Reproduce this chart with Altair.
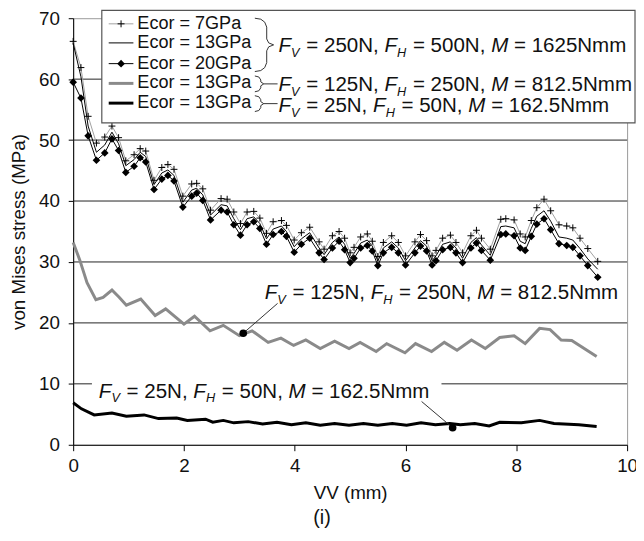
import altair as alt
import pandas as pd

# ---------------- data ----------------
X = [0.00, 0.14, 0.27, 0.42, 0.57, 0.70, 0.82, 0.95, 1.10, 1.21,
     1.31, 1.46, 1.60, 1.71, 1.82, 1.98, 2.14, 2.23, 2.34, 2.48,
     2.67, 2.78, 2.90, 3.02, 3.14, 3.26, 3.37, 3.49, 3.61, 3.76,
     3.85, 3.99, 4.12, 4.27, 4.44, 4.53, 4.68, 4.80, 4.90, 5.00,
     5.07, 5.19, 5.31, 5.40, 5.50, 5.60, 5.75, 5.87, 6.00, 6.17,
     6.27, 6.38, 6.48, 6.55, 6.67, 6.81, 6.91, 7.03, 7.18, 7.28,
     7.37, 7.53, 7.72, 7.81, 7.96, 8.07, 8.16, 8.27, 8.37, 8.50,
     8.62, 8.77, 8.91, 9.02, 9.15, 9.29, 9.47]
S20 = [59.5, 56.9, 50.7, 46.7, 47.9, 50.2, 48.3, 44.7, 45.7, 47.1,
       46.4, 41.9, 43.6, 44.2, 43.3, 39.0, 40.8, 41.3, 40.1, 36.9,
       38.5, 38.2, 36.1, 34.4, 36.1, 36.6, 35.5, 32.9, 34.5, 35.0,
       34.2, 31.6, 32.9, 33.9, 31.5, 30.4, 32.3, 33.4, 32.0, 29.9,
       30.6, 32.3, 32.7, 31.8, 29.4, 31.5, 32.4, 31.5, 29.5, 31.5,
       32.6, 31.8, 29.5, 30.2, 32.0, 32.4, 31.5, 29.9, 32.3, 33.1,
       31.9, 30.3, 34.5, 34.6, 34.3, 32.3, 31.9, 34.2, 36.2, 37.1,
       35.3, 33.0, 32.7, 32.4, 31.0, 29.4, 27.5]
S13 = [65.9, 60.4, 52.3, 48.0, 49.2, 51.3, 49.4, 45.8, 46.8, 48.0,
       47.3, 42.7, 44.6, 45.1, 44.2, 39.8, 41.8, 42.1, 41.0, 37.7,
       39.4, 39.2, 37.1, 35.3, 37.1, 37.4, 36.3, 33.8, 35.4, 35.9,
       35.0, 32.5, 33.8, 34.8, 32.3, 31.2, 33.2, 34.1, 32.9, 30.6,
       31.4, 33.1, 33.6, 32.6, 30.1, 32.3, 33.3, 32.3, 30.2, 32.3,
       33.5, 32.6, 30.2, 31.0, 32.9, 33.3, 32.3, 30.6, 33.2, 34.0,
       32.8, 31.1, 35.8, 35.9, 35.6, 33.4, 33.0, 35.5, 37.5, 38.4,
       36.7, 34.1, 33.9, 33.6, 32.2, 30.5, 28.8]
S7 = [66.2, 61.9, 53.9, 49.5, 50.5, 52.3, 50.4, 46.6, 47.6, 48.6,
      48.2, 43.4, 45.5, 46.0, 45.2, 40.8, 42.8, 42.9, 42.0, 38.5,
      40.4, 40.3, 38.2, 36.3, 38.2, 38.3, 37.2, 34.7, 36.6, 36.8,
      36.0, 33.6, 34.8, 35.7, 33.3, 32.1, 34.3, 35.0, 33.9, 31.5,
      32.4, 34.1, 34.6, 33.4, 30.9, 33.2, 34.3, 33.2, 31.0, 33.3,
      34.5, 33.5, 31.0, 31.9, 33.9, 34.4, 33.2, 31.5, 34.3, 35.2,
      33.9, 32.1, 37.0, 37.1, 36.9, 34.6, 34.1, 36.8, 38.9, 40.3,
      38.4, 36.1, 35.9, 35.6, 33.9, 32.2, 30.1]

XG = [0.00, 0.12, 0.25, 0.41, 0.54, 0.70, 0.83, 0.96, 1.22, 1.48,
      1.67, 2.00, 2.19, 2.47, 2.71, 3.00, 3.23, 3.52, 3.75, 3.98,
      4.20, 4.46, 4.72, 4.98, 5.18, 5.47, 5.66, 5.99, 6.18, 6.47,
      6.70, 6.93, 7.19, 7.44, 7.70, 7.96, 8.16, 8.42, 8.61, 8.81,
      9.00, 9.45]
G125 = [33.2, 30.3, 26.6, 23.8, 24.2, 25.4, 24.2, 22.9, 23.9, 21.2,
        22.3, 19.8, 21.1, 18.7, 19.6, 17.9, 18.7, 16.8, 17.5, 16.3,
        17.2, 15.8, 17.0, 15.8, 16.8, 15.3, 16.6, 15.1, 16.6, 15.3,
        16.8, 15.5, 17.2, 15.8, 17.6, 17.9, 16.6, 19.1, 18.9, 17.2,
        17.1, 14.5]

XB = [0.00, 0.15, 0.38, 0.70, 0.96, 1.28, 1.54, 1.87, 2.06, 2.39,
      2.52, 2.71, 2.90, 3.16, 3.42, 3.68, 3.94, 4.20, 4.46, 4.72,
      4.98, 5.24, 5.50, 5.76, 6.02, 6.28, 6.54, 6.80, 6.99, 7.25,
      7.51, 7.70, 8.09, 8.42, 8.68, 9.13, 9.45]
B25 = [6.9, 5.9, 4.9, 5.2, 4.7, 4.9, 4.3, 4.4, 4.0, 4.2,
       3.7, 4.0, 3.6, 3.8, 3.4, 3.7, 3.3, 3.6, 3.2, 3.5,
       3.2, 3.5, 3.2, 3.5, 3.2, 3.6, 3.3, 3.5, 3.3, 3.5,
       3.1, 3.7, 3.6, 4.0, 3.5, 3.3, 3.0]

GRID = [10, 20, 30, 40, 50, 60]
XTICKS = [0, 2, 4, 6, 8, 10]
YTICKS = [0, 10, 20, 30, 40, 50, 60, 70]
LEGEND_LABELS = ["Ecor = 7GPa", "Ecor = 13GPa", "Ecor = 20GPa", "Ecor = 13GPa", "Ecor = 13GPa"]
CASES = [("250N", "500N", "1625Nmm"), ("125N", "250N", "812.5Nmm"), ("25N", "50N", "162.5Nmm")]
# annotation markers (data coords): dot x, dot y, leader-start x, leader-start y
ANN1 = (3.07, 18.3, 3.69, 23.2)
ANN2 = (6.85, 2.8, 6.29, 7.1)

# ---------------- layout ----------------
W, H = 561, 432
PX0, PY0 = 74, 15          # page position of the plot origin (used for layout helpers)
FONT = "Liberation Sans"
TXT = "#111111"
FS_LEG = 18.3
FS_F = 20.8


def LX(v):
    return v - PX0


def LY(v):
    return v - PY0


xs = alt.Scale(domain=[0, 10], nice=False, zero=False)
ys = alt.Scale(domain=[0, 70], nice=False)

xaxis = alt.Axis(values=XTICKS, title="VV (mm)", grid=False, tickSize=6, labelPadding=6,
                 titlePadding=8, domainColor="black", tickColor="black", labelColor=TXT,
                 titleColor=TXT, labelFontSize=19, titleFontSize=19, titleFontWeight="normal",
                 labelFont=FONT, titleFont=FONT, labelFlush=False, labelOverlap=False)
yaxis = alt.Axis(values=YTICKS, title="von Mises stress (MPa)", grid=False, tickSize=5,
                 labelPadding=9, titlePadding=10, domainColor="black", tickColor="black",
                 labelColor=TXT, titleColor=TXT, labelFontSize=19, titleFontSize=19,
                 titleFontWeight="normal", labelFont=FONT, titleFont=FONT)

PLUS = "M-1,0H1M0,-1V1"

df_top = pd.DataFrame({"x": X, "s7": S7, "s13": S13, "s20": S20})
df_g = pd.DataFrame({"x": XG, "v": G125})
df_b = pd.DataFrame({"x": XB, "v": B25})


def xq(f="x"):
    return alt.X(f + ":Q", scale=xs, axis=xaxis)


def yq(f):
    return alt.Y(f + ":Q", scale=ys, axis=yaxis)


def pxx(f="px"):
    return alt.X(f + ":Q", scale=None, axis=None)


def pxy(f="py"):
    return alt.Y(f + ":Q", scale=None, axis=None)


grid = alt.Chart(pd.DataFrame({"x": [0, 10] * len(GRID),
                               "v": [g for g in GRID for _ in (0, 1)],
                               "id": [g for g in GRID for _ in (0, 1)]})).mark_line(
    color="#222222", strokeWidth=1).encode(x=xq(), y=yq("v"), detail="id:N")

one = pd.DataFrame({"a": [0]})
ann2_box = alt.Chart(one).mark_rect(fill="white").encode(
    x=alt.value(LX(93)), x2=alt.value(LX(447)), y=alt.value(LY(377)), y2=alt.value(LY(403)))

line_g = alt.Chart(df_g).mark_line(color="#8a8a8a", strokeWidth=3).encode(x=xq(), y=yq("v"))
line_b = alt.Chart(df_b).mark_line(color="#000000", strokeWidth=3).encode(x=xq(), y=yq("v"))
line7 = alt.Chart(df_top).mark_line(color="#a0a0a0", strokeWidth=1).encode(x=xq(), y=yq("s7"))
line13 = alt.Chart(df_top).mark_line(color="#000000", strokeWidth=1).encode(x=xq(), y=yq("s13"))
line20 = alt.Chart(df_top).mark_line(color="#000000", strokeWidth=1).encode(x=xq(), y=yq("s20"))
pts7 = alt.Chart(df_top).mark_point(shape=PLUS, size=49, stroke="black", strokeWidth=1,
                                    filled=False, opacity=1).encode(x=xq(), y=yq("s7"))
pts20 = alt.Chart(df_top).mark_point(shape="diamond", size=60, color="black", filled=True,
                                     opacity=1).encode(x=xq(), y=yq("s20"))

df_lead = pd.DataFrame({
    "id": ["a", "a", "b", "b"],
    "x": [ANN1[2], ANN1[0], ANN2[2], ANN2[0]],
    "y": [ANN1[3], ANN1[1], ANN2[3], ANN2[1]],
})
leaders = alt.Chart(df_lead).mark_line(color="#333333", strokeWidth=1).encode(
    x=xq(), y=yq("y"), detail="id:N")
df_dots = pd.DataFrame({"x": [ANN1[0], ANN2[0]], "y": [ANN1[1], ANN2[1]]})
dots = alt.Chart(df_dots).mark_point(shape="circle", size=60, color="black", filled=True,
                                     opacity=1).encode(x=xq(), y=yq("y"))

# ---- text segments with italic F_V, F_H, M ----
AW = {' ': 278, '=': 584, ',': 278, '.': 278, 'N': 722, 'm': 833, 'F': 611, 'M': 833,
      'V': 667, 'H': 722}
for d in "0123456789":
    AW[d] = 556


def tw(s, fs):
    return sum(AW.get(c, 556) for c in s) * fs / 1000.0


def formula(case, x0, yc, fs):
    """x0, yc: page coords of text start / vertical centre."""
    fv, fh, m = case
    segs = [("F", True, False), ("V", True, True), (" = %s, " % fv, False, False),
            ("F", True, False), ("H", True, True), (" = %s, " % fh, False, False),
            ("M", True, False), (" = %s" % m, False, False)]
    rows = []
    x = LX(x0)
    yb = LY(yc) + 0.36 * fs
    for t, it, sub in segs:
        size = fs * 0.62 if sub else fs
        lead = len(t) - len(t.lstrip(" "))
        rows.append(dict(t=t.strip(" "), px=x + tw(" " * lead, size),
                         py=yb + (0.22 * fs if sub else 0), fs=size, it=it))
        x += tw(t, size) + (1.0 if sub else 0.0)
    return rows


seg_rows = []
seg_rows += formula(CASES[0], 282, 42.0, FS_F)
seg_rows += formula(CASES[1], 282, 81.5, FS_F)
seg_rows += formula(CASES[2], 282, 102.5, FS_F)
ann_rows = []
ann_rows += formula(CASES[1], 268, 292.0, FS_F)
ann_rows += formula(CASES[2], 100, 391.7, FS_F)
df_seg = pd.DataFrame(seg_rows)
df_ann = pd.DataFrame(ann_rows)


def seg_layer(df, italic):
    d = df[df["it"] == italic]
    return alt.Chart(d).mark_text(align="left", baseline="alphabetic", font=FONT,
                                  fontStyle="italic" if italic else "normal",
                                  color=TXT).encode(
        x=pxx(), y=pxy(), text="t:N", size=alt.Size("fs:Q", scale=None, legend=None))


# ---- legend ----
ROWS = [LY(v) for v in (20.7, 40, 61, 81, 101)]
leg_box = alt.Chart(one).mark_rect(fill="white", stroke="#555555", strokeWidth=1.2).encode(
    x=alt.value(LX(103)), x2=alt.value(LX(643)), y=alt.value(LY(7)), y2=alt.value(LY(121)))
styles = [("#a0a0a0", 1), ("#000000", 1), ("#000000", 1), ("#8a8a8a", 3), ("#000000", 3)]
lg = []
for i, (c, w) in enumerate(styles):
    lg.append(dict(id=i, px=LX(110), py=ROWS[i], c=c, w=w))
    lg.append(dict(id=i, px=LX(135), py=ROWS[i], c=c, w=w))
df_lg = pd.DataFrame(lg)
leg_lines = alt.Chart(df_lg).mark_line().encode(
    x=pxx(), y=pxy(), detail="id:N", color=alt.Color("c:N", scale=None, legend=None),
    strokeWidth=alt.StrokeWidth("w:Q", scale=None, legend=None))
leg_plus = alt.Chart(pd.DataFrame({"px": [LX(122.5)], "py": [ROWS[0]]})).mark_point(
    shape=PLUS, size=49, stroke="black", strokeWidth=1, filled=False, opacity=1).encode(
    x=pxx(), y=pxy())
leg_dia = alt.Chart(pd.DataFrame({"px": [LX(122.5)], "py": [ROWS[2]]})).mark_point(
    shape="diamond", size=60, color="black", filled=True, opacity=1).encode(
    x=pxx(), y=pxy())
leg_text = alt.Chart(pd.DataFrame({"t": LEGEND_LABELS, "py": ROWS})).mark_text(
    align="left", baseline="middle", font=FONT, fontSize=FS_LEG, color=TXT).encode(
    x=alt.value(LX(139)), y=pxy(), text="t:N")

BIG = [(258, 15), (264, 16), (268, 19), (270, 24), (270, 36), (272, 40), (277, 42), (272, 44),
       (270, 48), (270, 60), (268, 65), (264, 68), (258, 69)]
SMALL = [(258, -8), (262, -7), (264, -4), (264, -2), (267, 0), (264, 2), (264, 4), (262, 7),
         (258, 8)]
br = []
for k, (px, py) in enumerate(BIG):
    br.append(dict(id="b0", k=k, px=LX(px), py=LY(py)))
for j, cy in enumerate([81.5, 101.5]):
    for k, (px, py) in enumerate(SMALL):
        br.append(dict(id="s%d" % j, k=k, px=LX(px), py=LY(cy + py)))
    br.append(dict(id="d%d" % j, k=0, px=LX(267), py=LY(cy)))
    br.append(dict(id="d%d" % j, k=1, px=LX(281), py=LY(cy)))
braces = alt.Chart(pd.DataFrame(br)).mark_line(color="#333333", strokeWidth=1).encode(
    x=pxx(), y=pxy(), detail="id:N", order="k:Q")

label_i = alt.Chart(one).mark_text(align="center", baseline="middle", font=FONT, fontSize=20,
                                   color=TXT, text="(i)").encode(
    x=alt.value(LX(326)), y=alt.value(LY(521)))

chart = alt.layer(
    grid, ann2_box, line_g, line_b, line7, line13, line20, pts7, pts20, leaders, dots,
    seg_layer(df_ann, True), seg_layer(df_ann, False),
    leg_box, leg_lines, leg_plus, leg_dia, leg_text, braces,
    seg_layer(df_seg, True), seg_layer(df_seg, False), label_i,
).properties(
    width=W, height=H,
    padding={"left": PX0 - 8, "top": PY0 - 8, "right": 9, "bottom": 525 - (PY0 - 8) - H},
    autosize=alt.AutoSizeParams(type="none"),
    background="white",
).configure_view(stroke="#999999", strokeWidth=1)

chart.save("out.html", embed_options={"renderer": "svg", "actions": False})
